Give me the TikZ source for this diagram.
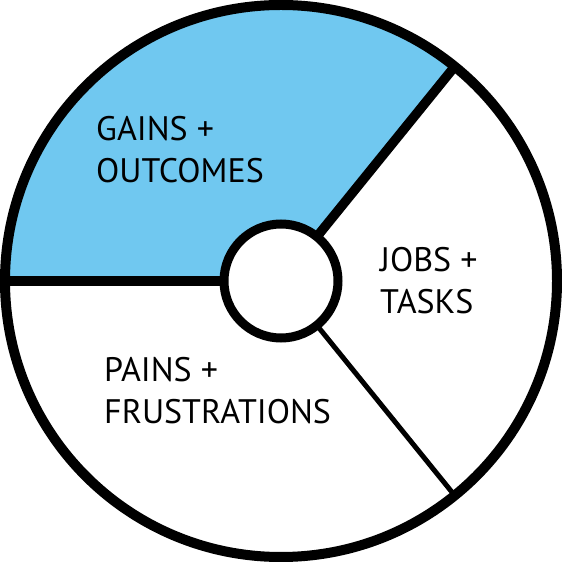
\documentclass[tikz,border=0pt]{standalone}
\usepackage{fontspec}
\setmainfont{PT Sans}
\usetikzlibrary{positioning}
\definecolor{gainblue}{RGB}{112,200,240}

\begin{document}
\begin{tikzpicture}[x=1pt,y=1pt, ring/.style={circle,draw,inner sep=0pt,outer sep=0pt}, spoke/.style={line width=9.5pt}, lbl/.style={anchor=north west,inner sep=0pt,align=left,font=\fontsize{34}{42}\selectfont}]
\useasboundingbox (0,0) rectangle (562,562);
\coordinate (c) at (281,281);
\fill[gainblue] ([shift={(51:276)}]c) arc[start angle=51,end angle=180,radius=276] -- ([shift={(180:57)}]c) arc[start angle=180,end angle=51,radius=57] -- cycle;
\node[ring,line width=10pt,minimum size=552pt] (rim) at (c) {};
\node[ring,line width=9pt,minimum size=114pt] (hub) at (c) {};
\draw[spoke] (hub.180)--(rim.180);\draw[spoke] (hub.51)--(rim.51);\draw[line width=5pt] (hub.-51)--(rim.-51);
\node[lbl] (gain) at (96,446) {GAINS +\\OUTCOMES};
\node[lbl] (job) at (380,315) {JOBS +\\TASKS};
\node[lbl] (pain) at (104,205) {PAINS +\\FRUSTRATIONS};
\end{tikzpicture}
\end{document}
